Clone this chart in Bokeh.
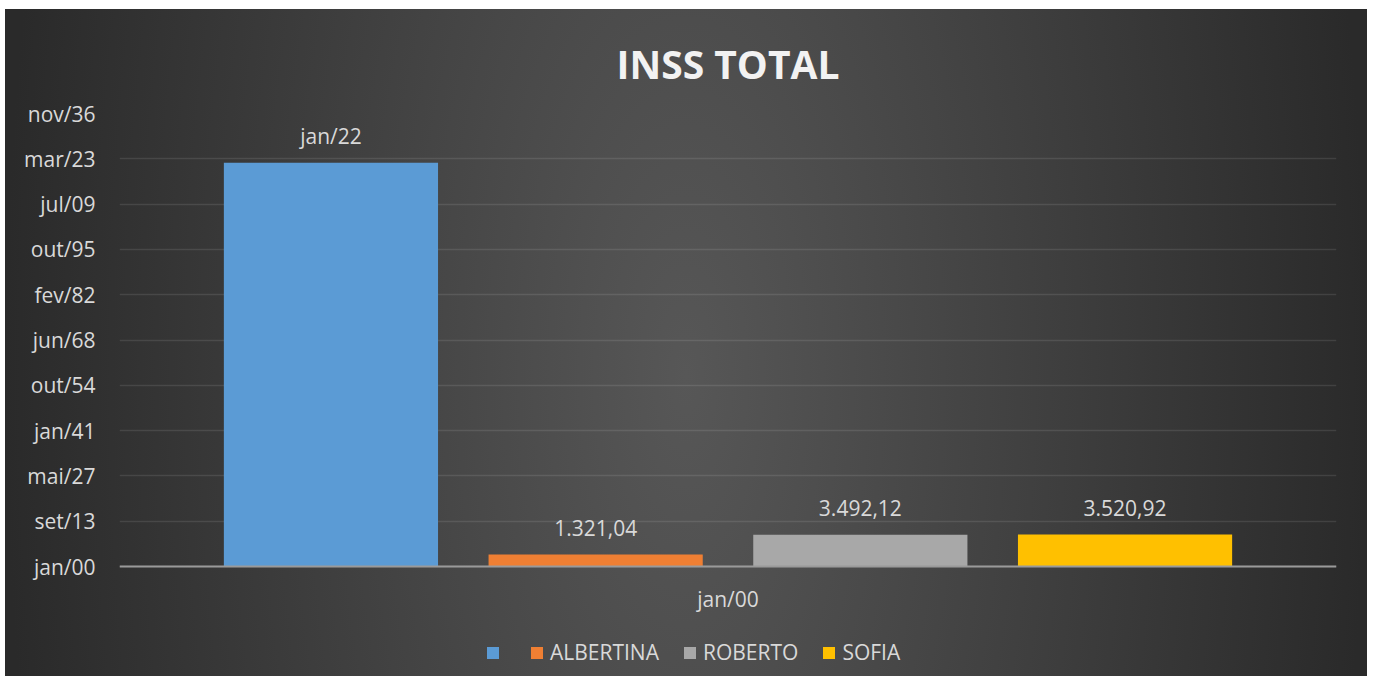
from bokeh.plotting import figure
from bokeh.models import FactorRange, Range1d, FixedTicker, Legend, LegendItem, ColumnDataSource
from bokeh.transform import dodge
from bokeh.core.properties import value
from bokeh.embed import file_html
from bokeh.resources import INLINE

# ---- data ----
category = "jan/00"
series_names = [" ", "ALBERTINA", "ROBERTO", "SOFIA"]
series_values = [44562, 1321.04, 3492.12, 3520.92]
value_labels = ["jan/22", "1.321,04", "3.492,12", "3.520,92"]
series_colors = ["#5b9bd5", "#ef7f33", "#a8a8a8", "#ffc000"]
y_ticks = [0, 5000, 10000, 15000, 20000, 25000, 30000, 35000, 40000, 45000, 50000]
y_tick_labels = ["jan/00", "set/13", "mai/27", "jan/41", "out/54", "jun/68",
                 "fev/82", "out/95", "jul/09", "mar/23", "nov/36"]

FONT = "Open Sans"
TEXT = "#d9d9d9"
FS = "21px"

# layout (pixels): frame top 104 below figure top, axis baseline 557 below, frame bottom at 667
FIG_H = 667
TOP = 104
BASE = 557
y_max = y_ticks[-1]
y_min = -y_max * (FIG_H - BASE) / (BASE - TOP)

p = figure(x_range=FactorRange(factors=[category], range_padding=0),
           y_range=Range1d(y_min, y_max),
           width=1362, height=FIG_H, output_backend="svg", toolbar_location=None,
           title="INSS TOTAL",
           min_border_left=114, min_border_right=31, min_border_top=TOP, min_border_bottom=0)
p.margin = (9, 0, 0, 5)

p.styles = {"background": "radial-gradient(ellipse 50% 240% at 50% 55%, #575757 0%, #2a2a2a 100%)"}
p.border_fill_color = None
p.background_fill_color = None
p.outline_line_color = None

p.title.text_font = FONT
p.title.text_font_size = "39px"
p.title.text_font_style = "bold"
p.title.text_color = "#f2f2f2"
p.title.align = "center"
p.title.standoff = 47

bar_w = 0.176
step = 0.2175
items = []
for i, (name, v, lab, col) in enumerate(zip(series_names, series_values, value_labels, series_colors)):
    src = ColumnDataSource(dict(x=[category], top=[v], label=[lab]))
    off = (i - 1.5) * step
    r = p.vbar(x=dodge("x", off, range=p.x_range), top="top", width=bar_w, source=src,
               fill_color=col, line_color=None)
    p.text(x=dodge("x", off, range=p.x_range), y="top", text="label", source=src,
           text_font=value(FONT), text_font_size=FS, text_color=TEXT,
           text_align="center", text_baseline="middle", y_offset=-27)
    items.append(LegendItem(label=value(name), renderers=[r]))

# axes
p.yaxis.ticker = FixedTicker(ticks=y_ticks)
p.yaxis.major_label_overrides = {t: l for t, l in zip(y_ticks, y_tick_labels)}
p.yaxis.axis_line_color = None
p.yaxis.major_tick_line_color = None
p.yaxis.minor_tick_line_color = None
p.yaxis.major_label_text_font = FONT
p.yaxis.major_label_text_font_size = FS
p.yaxis.major_label_text_color = TEXT
p.yaxis.major_label_standoff = 18

p.xaxis.fixed_location = 0
p.xaxis.axis_line_color = "#9a9a9a"
p.xaxis.axis_line_width = 2
p.xaxis.major_tick_line_color = None
p.xaxis.minor_tick_line_color = None
p.xaxis.major_label_text_font = FONT
p.xaxis.major_label_text_font_size = FS
p.xaxis.major_label_text_color = TEXT
p.xaxis.major_label_standoff = 12

p.xgrid.grid_line_color = None
p.ygrid.grid_line_color = "white"
p.ygrid.grid_line_alpha = 0.1
p.ygrid.grid_line_width = 1.5

legend = Legend(items=items, orientation="horizontal", location=(361, 5),
                label_text_font=FONT, label_text_font_size=FS, label_text_color=TEXT,
                glyph_width=15, glyph_height=15, label_standoff=6, label_width=0, spacing=23,
                padding=5, margin=0,
                background_fill_alpha=0, border_line_alpha=0)
p.add_layout(legend, "center")

open("out.html", "w").write(file_html(p, INLINE))
